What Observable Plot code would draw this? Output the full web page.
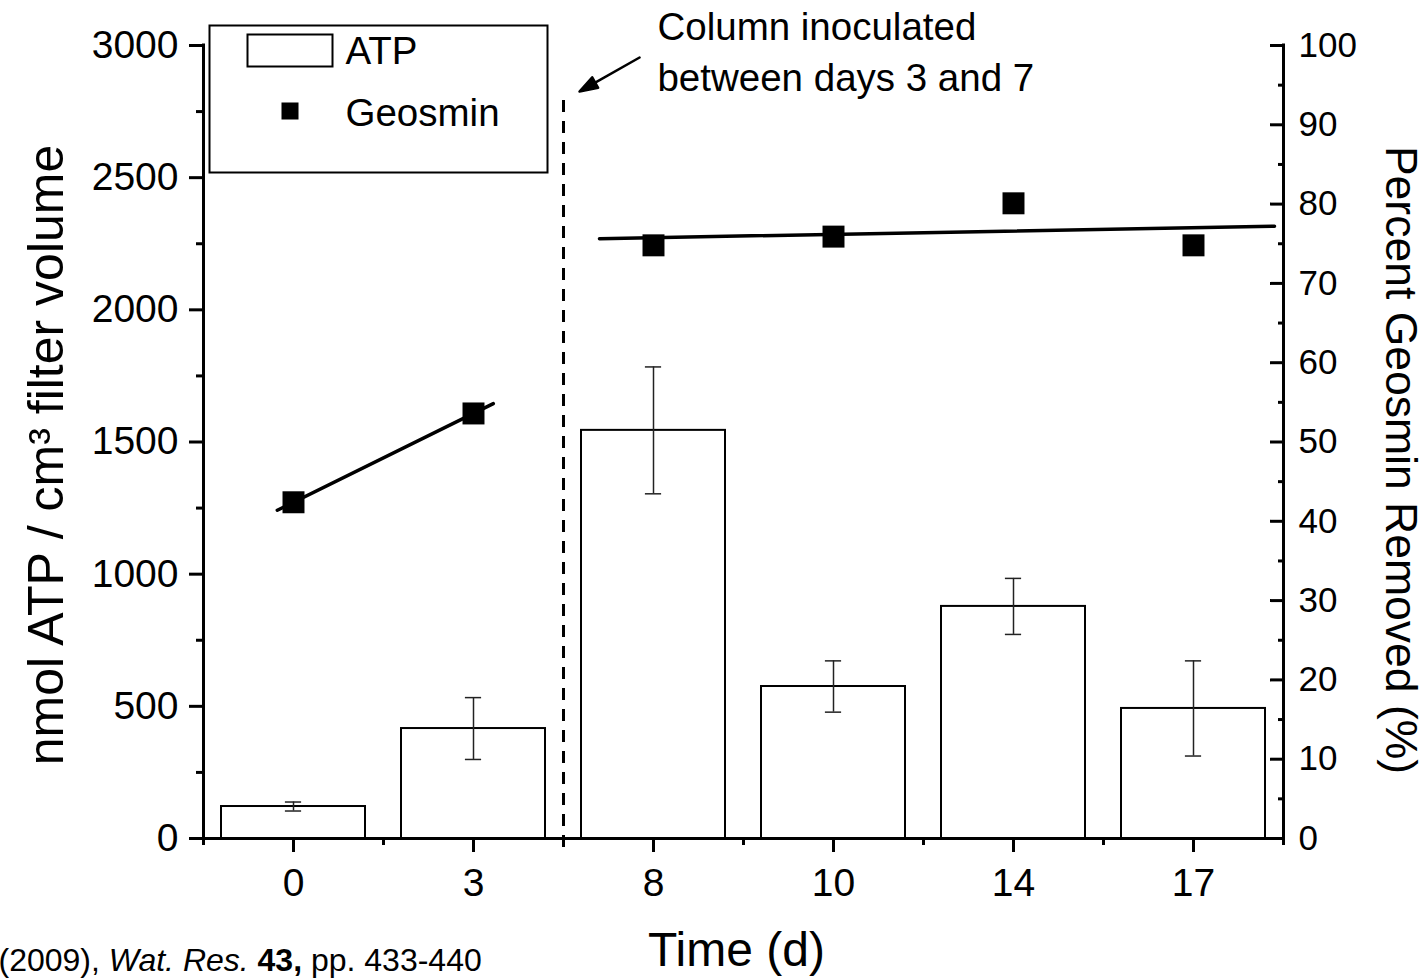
<!DOCTYPE html>
<html><head><meta charset="utf-8">
<script src="https://cdn.jsdelivr.net/npm/d3@7"></script>
<script src="https://cdn.jsdelivr.net/npm/@observablehq/plot@0.6"></script>
<style>html,body{margin:0;padding:0;background:#fff;} #chart{width:1427px;height:978px;overflow:hidden;}</style>
</head><body><div id="chart"></div>
<script>
// ---- data ----
const days = ["0", "3", "8", "10", "14", "17"];
const atp = [121, 416, 1544, 575, 878, 492];          // nmol ATP / cm3
const atpErr = [17, 117, 240, 97, 106, 180];          // +/- error
const geosmin = [42.4, 53.6, 74.8, 75.9, 80.1, 74.8]; // % removed
const leftTicks = [0, 500, 1000, 1500, 2000, 2500, 3000];
const rightTicks = [0, 10, 20, 30, 40, 50, 60, 70, 80, 90, 100];
const fitGroups = [[0, 1], [2, 3, 4, 5]];             // before / after inoculation
const fitExtents = [[-0.09, 1.11], [1.7, 5.45]];      // drawn extent (category index)
const inoculationX = 1.5;                             // between day 3 and day 8
const pctToAtp = 30;                                  // right axis 0-100 maps to 0-3000

// ---- derived tables ----
const table = days.map((d, i) => ({i, day: d, atp: atp[i], lo: atp[i] - atpErr[i], hi: atp[i] + atpErr[i], geo: geosmin[i]}));
const fitLines = fitGroups.flatMap((g, k) => {
  const xs = g, ys = g.map(i => geosmin[i]);
  const mx = d3.mean(xs), my = d3.mean(ys);
  const slope = d3.sum(xs, (x, j) => (x - mx) * (ys[j] - my)) / d3.sum(xs, x => (x - mx) ** 2);
  return fitExtents[k].map(x => ({k, x, y: (my + slope * (x - mx)) * pctToAtp}));
});
const mid = a => d3.pairs(a, (p, q) => (p + q) / 2);
const xMinor = d3.range(-0.5, days.length, 1);
const blank = () => "";

// arrow with a filled head (tip at anchor "end")
const arrowShape = {
  draw(ctx, l) {
    const h = 18, w = 6;
    ctx.moveTo(0, 0); ctx.lineTo(0, -l + h);
    ctx.moveTo(0, -l); ctx.lineTo(-w, -l + h); ctx.lineTo(w, -l + h); ctx.closePath();
  }
};

const font = "'Liberation Sans', Arial, sans-serif";

const chart = Plot.plot({
  width: 1427, height: 978,
  marginLeft: 203, marginRight: 144, marginTop: 45, marginBottom: 140,
  style: {fontFamily: font, fontSize: "39px", color: "black", background: "white", overflow: "visible"},
  x: {type: "linear", domain: [-0.5, days.length - 0.5]},
  y: {domain: [0, 3000]},
  marks: [
    // bars
    Plot.rectY(table, {x1: d => d.i - 0.4, x2: d => d.i + 0.4, y1: 0, y2: "atp", fill: "white", stroke: "black", strokeWidth: 2}),
    // error bars
    Plot.ruleX(table, {x: "i", y1: "lo", y2: "hi", stroke: "#222", strokeWidth: 1.5}),
    Plot.ruleY(table, {y: "lo", x1: d => d.i - 0.045, x2: d => d.i + 0.045, stroke: "#222", strokeWidth: 1.5}),
    Plot.ruleY(table, {y: "hi", x1: d => d.i - 0.045, x2: d => d.i + 0.045, stroke: "#222", strokeWidth: 1.5}),
    // inoculation marker
    Plot.ruleX([inoculationX], {y1: -34, y2: 2803, stroke: "black", strokeWidth: 3, strokeDasharray: "12,9"}),
    // geosmin fits and points
    Plot.line(fitLines, {x: "x", y: "y", z: "k", stroke: "black", strokeWidth: 3.5}),
    Plot.dot(table, {x: "i", y: d => d.geo * pctToAtp, symbol: "square", r: 12.4, fill: "black", stroke: "none"}),
    // axis lines
    Plot.ruleX([-0.5, days.length - 0.5], {y1: 0, y2: 3000, stroke: "black", strokeWidth: 3, strokeLinecap: "square"}),
    Plot.ruleY([0], {x1: -0.5, x2: days.length - 0.5, stroke: "black", strokeWidth: 3, strokeLinecap: "square"}),
    // left axis
    Plot.axisY({anchor: "left", ticks: leftTicks, tickSize: 14, tickPadding: 11, tickFormat: d => String(d), strokeWidth: 3, fontSize: 39, label: null}),
    Plot.axisY({anchor: "left", ticks: mid(leftTicks), tickSize: 7, tickFormat: blank, strokeWidth: 3, label: null}),
    // right axis (percent)
    Plot.axisY({anchor: "right", ticks: rightTicks.map(v => v * pctToAtp), tickSize: 14, dx: -14, tickFormat: blank, strokeWidth: 3, label: null}),
    Plot.axisY({anchor: "right", ticks: mid(rightTicks).map(v => v * pctToAtp), tickSize: 6, dx: -6, tickFormat: blank, strokeWidth: 3, label: null}),
    Plot.axisY({anchor: "right", ticks: rightTicks.map(v => v * pctToAtp), tickSize: 0, tickPadding: 15, tickFormat: d => String(Math.round(d / pctToAtp)), fontSize: 35, label: null}),
    // bottom axis
    Plot.axisX({anchor: "bottom", ticks: d3.range(days.length), tickFormat: i => days[i], tickSize: 14, tickPadding: 16, strokeWidth: 3, fontSize: 39, label: null}),
    Plot.axisX({anchor: "bottom", ticks: xMinor, tickSize: 7, tickFormat: blank, strokeWidth: 3, label: null}),
    // axis titles
    Plot.text(["nmol ATP / cm³ filter volume"], {frameAnchor: "left", dx: -141, dy: 13, rotate: -90, textAnchor: "middle", lineAnchor: "bottom", fontSize: 50}),
    Plot.text(["Percent Geosmin Removed (%)"], {frameAnchor: "right", dx: 102, dy: 18, rotate: 90, textAnchor: "middle", lineAnchor: "bottom", fontSize: 44.5}),
    Plot.text(["Time (d)"], {frameAnchor: "bottom", dx: -7, dy: 127, textAnchor: "middle", lineAnchor: "bottom", fontSize: 48}),
    Plot.text(["(2009), Wat. Res. 43, pp. 433-440"], {frameAnchor: "bottom-left", dx: -205, dy: 132, textAnchor: "start", lineAnchor: "bottom", fontSize: 32}),
    // annotation
    Plot.vector([0], {x: 1.589, y: 2826, length: 69, rotate: -119.5, anchor: "end", shape: arrowShape, stroke: "black", fill: "black", strokeWidth: 2.5}),
    Plot.text(["Column inoculated", "between days 3 and 7"], {x: 2.022, y: (d, i) => [3019, 2826][i], textAnchor: "start", lineAnchor: "bottom", fontSize: 38.5}),
    // legend
    Plot.frame({stroke: "black", strokeWidth: 2, fill: "white", insetLeft: 6, insetRight: 736, insetTop: -20, insetBottom: 666}),
    Plot.frame({stroke: "black", strokeWidth: 2, fill: "white", insetLeft: 44, insetRight: 951, insetTop: -11, insetBottom: 772}),
    Plot.dot([0], {frameAnchor: "top-left", dx: 86.5, dy: 65.5, symbol: "square", r: 9.6, fill: "black", stroke: "none"}),
    Plot.text(["ATP"], {frameAnchor: "top-left", dx: 142, dy: 18, textAnchor: "start", lineAnchor: "bottom", fontSize: 38.5}),
    Plot.text(["Geosmin"], {frameAnchor: "top-left", dx: 142, dy: 80, textAnchor: "start", lineAnchor: "bottom", fontSize: 38.5})
  ]
});
document.getElementById("chart").append(chart);

// rich-text caption (italic journal, bold volume)
d3.select(chart).selectAll("text").filter(function () { return this.textContent.startsWith("(2009)"); })
  .each(function () {
    const t = d3.select(this); t.text(null);
    t.append("tspan").text("(2009), ");
    t.append("tspan").attr("font-style", "italic").text("Wat. Res.");
    t.append("tspan").text(" ");
    t.append("tspan").attr("font-weight", "bold").text("43,");
    t.append("tspan").text(" pp. 433-440");
  });
</script>
</body></html>
